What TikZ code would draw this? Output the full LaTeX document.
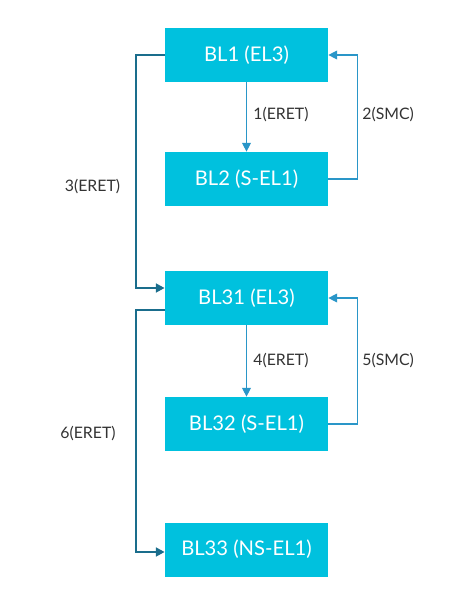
\documentclass[tikz,border=0pt]{standalone}
\usepackage{fontspec}
\setmainfont{Lato}
\usetikzlibrary{arrows.meta}
\definecolor{boxcyan}{HTML}{00C1DE}
\definecolor{darkline}{HTML}{1A6D8C}
\definecolor{lightline}{HTML}{2A96C8}
\definecolor{labelgray}{HTML}{333333}
\tikzset{
  blbox/.style={fill=boxcyan, text=white, minimum width=3.26cm, minimum height=1.08cm, inner sep=0pt, font=\fontsize{11.5}{13}\selectfont},
  retarr/.style={draw=darkline, line width=1.3pt, -{Triangle[length=5pt,width=5pt]}},
  smcarr/.style={draw=lightline, line width=0.6pt, -{Triangle[length=5pt,width=5pt]}},
  downarr/.style={draw=lightline, line width=0.6pt, -{Triangle[length=5pt,width=5pt]}},
  steplabel/.style={text=labelgray, font=\fontsize{9}{11}\selectfont, inner sep=0pt}
}
\begin{document}
\begin{tikzpicture}[x=0.02cm, y=-0.02cm]
  \useasboundingbox (0,0) rectangle (463,601);
  % boot stages
  \node[blbox] (bl1) at (246.5,55) {BL1 (EL3)};
  \node[blbox] (bl2) at (246.5,179) {BL2 (S-EL1)};
  \node[blbox] (bl31) at (246.5,298) {BL31 (EL3)};
  \node[blbox] (bl32) at (246.5,424) {BL32 (S-EL1)};
  \node[blbox] (bl33) at (246.5,549.5) {BL33 (NS-EL1)};
  % ERET / SMC transitions
  \draw[downarr] (bl1) -- (bl2);
  \draw[smcarr] (bl2.east) -- ++(29,0) |- (bl1.east);
  \draw[retarr] (bl1.west) -- ++(-29,0) |- ([yshift=0.2cm]bl31.west);
  \draw[downarr] (bl31) -- (bl32);
  \draw[smcarr] (bl32.east) -- ++(29,0) |- (bl31.east);
  \draw[retarr] ([yshift=-0.24cm]bl31.west) -- ++(-29,0) |- ([yshift=-0.05cm]bl33.west);
  % labels
  \node[steplabel, anchor=west] (l1) at (253,115) {1(ERET)};
  \node[steplabel, anchor=west] (l2) at (362,115) {2(SMC)};
  \node[steplabel] (l3) at (92.5,187) {3(ERET)};
  \node[steplabel, anchor=west] (l4) at (253,361) {4(ERET)};
  \node[steplabel, anchor=west] (l5) at (362,361) {5(SMC)};
  \node[steplabel] (l6) at (88,434) {6(ERET)};
\end{tikzpicture}
\end{document}
